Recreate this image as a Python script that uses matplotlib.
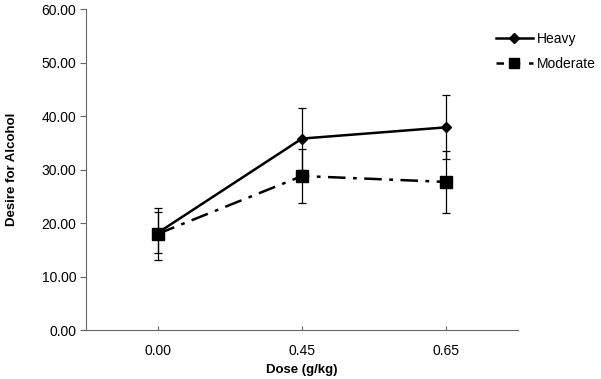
import numpy as np
import matplotlib
matplotlib.use('Agg')
import matplotlib.pyplot as plt
from matplotlib.lines import Line2D

plt.rcParams['font.family'] = ['Liberation Sans', 'DejaVu Sans']

doses = ['0.00', '0.45', '0.65']
heavy = [18.2, 35.8, 37.9]
heavy_err = [3.8, 5.8, 6.0]
moderate = [18.0, 28.8, 27.7]
moderate_err = [4.9, 5.0, 5.8]
y_ticks = [0, 10, 20, 30, 40, 50, 60]

dashdot = (0, (7, 3, 1.5, 3))

fig = plt.figure(figsize=(6.01, 3.79), dpi=100)
ax = fig.add_axes([0.143, 0.129, 0.719, 0.847])

x = np.arange(len(doses))
ax.errorbar(x, heavy, yerr=heavy_err, color='black', lw=1.8, marker='D', ms=5.5,
            ecolor='black', elinewidth=0.9, capsize=3, capthick=0.9, zorder=3)
ax.errorbar(x, moderate, yerr=moderate_err, color='black', lw=1.8, ls=dashdot,
            marker='s', ms=8, ecolor='black', elinewidth=0.9, capsize=3, capthick=0.9,
            zorder=3)

ax.set_xlim(-0.5, 2.5)
ax.set_ylim(0, 60)
ax.set_xticks(x)
ax.set_xticklabels(doses)
ax.set_yticks(y_ticks)
ax.set_yticklabels(['%.2f' % v for v in y_ticks])
ax.tick_params(axis='x', direction='in', length=3, pad=10, labelsize=10, color='#666666')
ax.tick_params(axis='y', direction='out', length=4, pad=3, labelsize=10, color='#666666')
for side in ['top', 'right']:
    ax.spines[side].set_visible(False)
for side in ['left', 'bottom']:
    ax.spines[side].set_color('#666666')

ax.set_xlabel('Dose (g/kg)', fontsize=9.5, fontweight='bold', labelpad=4)
ax.set_ylabel('Desire for Alcohol', fontsize=9.5, fontweight='bold', labelpad=17)

handles = [Line2D([], [], color='black', lw=1.8, marker='D', ms=5.5),
           Line2D([], [], color='black', lw=1.8, ls=(0, (3, 3.5)), marker='s', ms=7)]
fig.legend(handles, ['Heavy', 'Moderate'], loc='upper left', bbox_to_anchor=(0.826, 0.915),
           frameon=False, fontsize=10, handlelength=2.6, handletextpad=0.3, labelspacing=0.75,
           borderpad=0, borderaxespad=0)

fig.savefig('out.png', dpi=100)
